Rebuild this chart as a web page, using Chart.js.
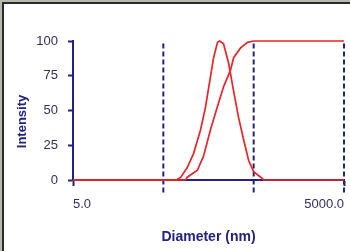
<!DOCTYPE html>
<html>
<head>
<meta charset="utf-8">
<script src="https://cdn.jsdelivr.net/npm/chart.js@4.4.1/dist/chart.umd.min.js"></script>
<style>
  html, body { margin: 0; padding: 0; background: #fff; }
  #wrap { width: 350px; height: 251px; position: relative; }
</style>
</head>
<body>
<div id="wrap"><canvas id="sizeChart" width="350" height="251"></canvas></div>
<script>
// size distribution by intensity (nm vs %)
const distSizes = [5, 70, 78, 92, 108, 129, 146, 166, 180, 199, 210, 232, 264, 300, 340, 387, 440, 500, 598, 646, 5000];
const distValues = [0, 0, 2, 9, 19, 36, 52, 74, 88, 99, 100, 98, 84, 64, 45, 29, 14, 6, 2, 0, 0];

// cumulative curve
const cumSizes = [5, 88, 92, 119, 139, 166, 199, 232, 277, 300, 358, 428, 500, 5000];
const cumValues = [0, 0, 2, 7, 17, 36, 53, 67, 79, 88, 95, 99, 100, 100];

// dashed marker lines and axis ticks
const markers = [50, 500, 5000];
const xTicks = [5, 5000];
const yTicks = [0, 25, 50, 75, 100];
const yTitle = "Intensity";

const navy = "#22227f";
const red = "#e8262a";

function toPoints(xs, ys) {
  return xs.map((x, i) => ({ x: x, y: ys[i] }));
}

const markerSets = markers.map(m => ({
  data: [{ x: m, y: -9 }, { x: m, y: 100 }],
  borderColor: navy,
  borderWidth: 2,
  borderDash: [5, 3],
  pointRadius: 0,
  clip: false,
  order: 2
}));

// window frame on the top and left edges, plus the y title (sits a bit low in the original)
const framePlugin = {
  id: "frame",
  afterDraw(chart) {
    const ctx = chart.ctx;
    ctx.save();
    ctx.fillStyle = "#b8b8b0";
    ctx.fillRect(0, 0, 350, 2);
    ctx.fillRect(0, 0, 2, 251);
    ctx.fillStyle = "#2a2a2a";
    ctx.fillRect(2, 2, 348, 2);
    ctx.fillRect(2, 2, 2, 249);

    const area = chart.chartArea;
    ctx.translate(22, (area.top + area.bottom) / 2 + 11);
    ctx.rotate(-Math.PI / 2);
    ctx.fillStyle = navy;
    ctx.font = "bold 13px 'Liberation Sans'";
    ctx.textAlign = "center";
    ctx.textBaseline = "middle";
    ctx.fillText(yTitle, 0, 0);
    ctx.restore();
  }
};

const ctx = document.getElementById("sizeChart").getContext("2d");
new Chart(ctx, {
  type: "line",
  data: {
    datasets: [
      ...markerSets,
      {
        data: toPoints(distSizes, distValues),
        borderColor: red,
        borderWidth: 1.7,
        pointRadius: 0,
        tension: 0,
        clip: false,
        order: 1
      },
      {
        data: toPoints(cumSizes, cumValues),
        borderColor: red,
        borderWidth: 1.7,
        pointRadius: 0,
        tension: 0,
        clip: false,
        order: 1
      }
    ]
  },
  options: {
    responsive: false,
    animation: false,
    layout: { padding: { top: 41, right: 6, left: 6, bottom: 0 } },
    plugins: { legend: { display: false }, tooltip: { enabled: false } },
    scales: {
      x: {
        type: "logarithmic",
        min: 5,
        max: 5000,
        afterBuildTicks: s => { s.ticks = xTicks.map(v => ({ value: v })); },
        afterFit: s => {
          s.height = 71;
          s.paddingLeft = 0;
          s.paddingRight = 0;
        },
        ticks: {
          align: "inner",
          padding: 11,
          maxRotation: 0,
          autoSkip: false,
          color: "#30305a",
          font: { family: "Liberation Sans", size: 13 },
          callback: v => Number(v).toFixed(1)
        },
        grid: { drawOnChartArea: false, drawTicks: true, tickLength: 6, tickWidth: 2, tickColor: navy },
        border: { color: navy, width: 2 },
        title: {
          display: true,
          text: "Diameter (nm)",
          color: navy,
          font: { family: "Liberation Sans", size: 14, weight: "bold" },
          padding: { top: 0, bottom: 5 }
        }
      },
      y: {
        min: 0,
        max: 100,
        afterBuildTicks: s => { s.ticks = yTicks.map(v => ({ value: v })); },
        afterFit: s => {
          s.width = 67;
          s.paddingTop = 0;
          s.paddingBottom = 0;
        },
        ticks: {
          padding: 10,
          color: "#30305a",
          font: { family: "Liberation Sans", size: 13 }
        },
        grid: { drawOnChartArea: false, drawTicks: true, tickLength: 5, tickWidth: 2, tickColor: navy },
        border: { color: navy, width: 2 }
      }
    }
  },
  plugins: [framePlugin]
});
</script>
</body>
</html>
